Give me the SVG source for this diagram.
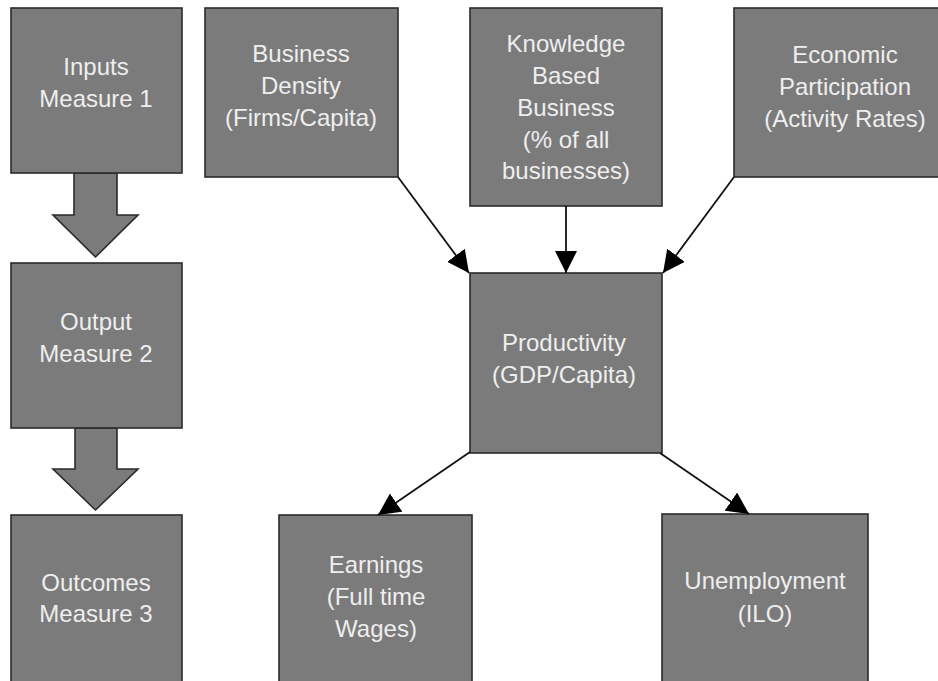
<svg xmlns="http://www.w3.org/2000/svg" width="938" height="681" viewBox="0 0 938 681">
<defs>
<style>
.box{fill:#7b7b7b;stroke:#2b2b2b;stroke-width:1.6}
.blk{fill:#7b7b7b;stroke:#2b2b2b;stroke-width:1.6;stroke-linejoin:miter}
.t{font-family:"Liberation Sans",Arial,sans-serif;font-size:24px;fill:#eeeeee;text-anchor:middle}
.c{stroke:#111;stroke-width:1.8;fill:none;marker-end:url(#ah)}
</style>
<marker id="ah" viewBox="0 0 20 20" refX="20" refY="10" markerWidth="22" markerHeight="22" markerUnits="userSpaceOnUse" orient="auto">
<path d="M0,0 L20,10 L0,20 z" fill="#000"/>
</marker>
</defs>
<rect width="938" height="681" fill="#ffffff"/>

<g id="flow-arrows">
<path class="blk" d="M74,173 L117,173 L117,215 L138,215 L95.5,257 L53,215 L74,215 Z"/>
<path class="blk" d="M75,428 L117,428 L117,469 L138,469 L95.5,510 L53,469 L75,469 Z"/>
</g>

<g id="inputs">
<rect class="box" x="11" y="8" width="171" height="165"/>
<text class="t" x="96" y="75">Inputs</text>
<text class="t" x="96" y="107">Measure 1</text>
</g>
<g id="output">
<rect class="box" x="11" y="263" width="171" height="165"/>
<text class="t" x="96" y="330">Output</text>
<text class="t" x="96" y="362">Measure 2</text>
</g>
<g id="outcomes">
<rect class="box" x="11" y="515" width="171" height="180"/>
<text class="t" x="96" y="591">Outcomes</text>
<text class="t" x="96" y="622">Measure 3</text>
</g>

<g id="business-density">
<rect class="box" x="205" y="8" width="193" height="169"/>
<text class="t" x="301" y="62">Business</text>
<text class="t" x="301" y="94">Density</text>
<text class="t" x="301" y="126">(Firms/Capita)</text>
</g>
<g id="knowledge">
<rect class="box" x="470" y="8" width="192" height="198"/>
<text class="t" x="566" y="52">Knowledge</text>
<text class="t" x="566" y="84">Based</text>
<text class="t" x="566" y="116">Business</text>
<text class="t" x="566" y="148">(% of all</text>
<text class="t" x="566" y="179">businesses)</text>
</g>
<g id="economic">
<rect class="box" x="734" y="8" width="230" height="169"/>
<text class="t" x="845" y="63">Economic</text>
<text class="t" x="845" y="95">Participation</text>
<text class="t" x="845" y="127">(Activity Rates)</text>
</g>
<g id="productivity">
<rect class="box" x="470" y="273" width="192" height="180"/>
<text class="t" x="564" y="351">Productivity</text>
<text class="t" x="564" y="383">(GDP/Capita)</text>
</g>
<g id="earnings">
<rect class="box" x="279" y="515" width="193" height="180"/>
<text class="t" x="376" y="573">Earnings</text>
<text class="t" x="376" y="605">(Full time</text>
<text class="t" x="376" y="637">Wages)</text>
</g>
<g id="unemployment">
<rect class="box" x="662" y="514" width="206" height="180"/>
<text class="t" x="765" y="589">Unemployment</text>
<text class="t" x="765" y="622">(ILO)</text>
</g>

<g id="connectors">
<line class="c" x1="398" y1="177" x2="469" y2="273"/>
<line class="c" x1="566" y1="206" x2="566" y2="273"/>
<line class="c" x1="734" y1="177" x2="663" y2="273"/>
<line class="c" x1="470" y1="452" x2="378" y2="515"/>
<line class="c" x1="660" y1="453" x2="749" y2="514"/>
</g>
</svg>
